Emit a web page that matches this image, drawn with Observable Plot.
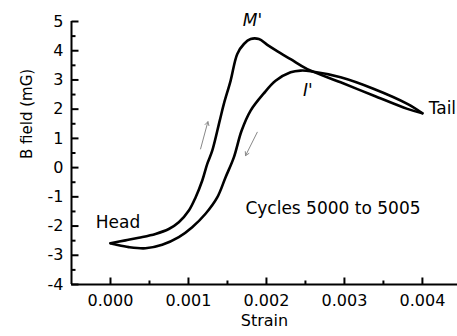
<!DOCTYPE html>
<html>
<head>
<meta charset="utf-8">
<script src="https://cdn.jsdelivr.net/npm/d3@7"></script>
<script src="https://cdn.jsdelivr.net/npm/@observablehq/plot@0.6"></script>
<style>
  html, body { margin: 0; padding: 0; background: #fff; }
</style>
</head>
<body>
<div id="chart"></div>
<script>
// Loading branch: Head -> M' -> Tail
const loadStrain = [0.0000, 0.000192, 0.000363, 0.000577, 0.000748, 0.000876, 0.001005, 0.001091, 0.001177, 0.001241, 0.001305, 0.001401, 0.001454, 0.001540, 0.001626, 0.001711, 0.001797, 0.001903, 0.002011, 0.002117, 0.002310, 0.002524, 0.002951, 0.003379, 0.003807, 0.004000];
const loadB = [-2.59, -2.49, -2.40, -2.27, -2.10, -1.87, -1.47, -1.02, -0.44, 0.13, 0.58, 1.61, 2.18, 2.97, 3.89, 4.23, 4.40, 4.40, 4.20, 4.02, 3.71, 3.37, 2.92, 2.46, 2.01, 1.86];
// Unloading branch: Tail -> I' -> Head
const unloadStrain = [0.004000, 0.003807, 0.003379, 0.002951, 0.002567, 0.002438, 0.002310, 0.002117, 0.001963, 0.001797, 0.001681, 0.001582, 0.001476, 0.001369, 0.001219, 0.001048, 0.000876, 0.000663, 0.000449, 0.000235, 0.000064, 0.000000];
const unloadB = [1.86, 2.18, 2.69, 3.09, 3.30, 3.32, 3.26, 2.97, 2.53, 1.95, 1.26, 0.35, -0.33, -1.02, -1.58, -2.04, -2.38, -2.64, -2.76, -2.72, -2.63, -2.59];

// Axis ticks
const xTicks = [0, 0.001, 0.002, 0.003, 0.004];
const xMinor = [0.0005, 0.0015, 0.0025, 0.0035];
const yTicks = [-4, -3, -2, -1, 0, 1, 2, 3, 4, 5];
const yMinor = [-3.5, -2.5, -1.5, -0.5, 0.5, 1.5, 2.5, 3.5, 4.5];
const xMin = -0.0005, xMax = 0.00445, yMin = -4, yMax = 5;

// Direction arrows (strain, B)
const arrowFromStrain = [0.001155, 0.001882];
const arrowFromB = [0.64, 1.21];
const arrowToStrain = [0.001249, 0.001732];
const arrowToB = [1.57, 0.41];

// Annotations (strain, B)
const plainLabels = ["Head"];
const plainStrain = [0.000096];
const plainB = [-1.88];
const startLabels = ["Tail", "Cycles 5000 to 5005"];
const startStrain = [0.00408, 0.00173];
const startB = [2.02, -1.40];
const italicLabels = ["M'", "I'"];
const italicStrain = [0.00182, 0.00253];
const italicB = [5.02, 2.63];

const loop = [
  ...loadStrain.map((s, i) => ({strain: s, B: loadB[i], branch: "load"})),
  ...unloadStrain.map((s, i) => ({strain: s, B: unloadB[i], branch: "unload"}))
];
const arrows = arrowFromStrain.map((s, i) => ({x1: s, y1: arrowFromB[i], x2: arrowToStrain[i], y2: arrowToB[i]}));
const plain = plainLabels.map((t, i) => ({t, x: plainStrain[i], y: plainB[i]}));
const starts = startLabels.map((t, i) => ({t, x: startStrain[i], y: startB[i]}));
const italics = italicLabels.map((t, i) => ({t, x: italicStrain[i], y: italicB[i]}));

const W = 457, H = 336, ML = 71, MR = 0, MT = 21, MB = 52;
const xPerPx = (xMax - xMin) / (W - ML - MR);
const yPerPx = (yMax - yMin) / (H - MT - MB);

// inward tick segments as records
const majorY = yTicks.map(v => ({x1: xMin, x2: xMin + 7 * xPerPx, y1: v, y2: v}));
const minorY = yMinor.map(v => ({x1: xMin, x2: xMin + 4 * xPerPx, y1: v, y2: v}));
const majorX = xTicks.map(v => ({x1: v, x2: v, y1: yMin, y2: yMin + 7 * yPerPx}));
const minorX = xMinor.map(v => ({x1: v, x2: v, y1: yMin, y2: yMin + 4 * yPerPx}));
const tickSegs = [...majorY, ...minorY, ...majorX, ...minorX];

const chart = Plot.plot({
  width: W,
  height: H,
  marginLeft: ML,
  marginRight: MR,
  marginTop: MT,
  marginBottom: MB,
  style: {fontFamily: "DejaVu Sans", fontSize: "16px", background: "white", color: "black"},
  x: {domain: [xMin, xMax], label: null},
  y: {domain: [yMin, yMax], label: null},
  marks: [
    Plot.axisY({ticks: yTicks, tickSize: 0, tickPadding: 8, tickFormat: d => d, label: null}),
    Plot.axisX({ticks: xTicks, tickSize: 0, tickPadding: 10, tickFormat: d3.format(".3f"), label: null}),
    Plot.ruleX([xMin], {strokeWidth: 2}),
    Plot.ruleY([yMin], {strokeWidth: 2}),
    Plot.link(tickSegs, {x1: "x1", y1: "y1", x2: "x2", y2: "y2", stroke: "black", strokeWidth: 2}),
    Plot.line(loop, {x: "strain", y: "B", z: "branch", stroke: "black", strokeWidth: 2.6, curve: "catmull-rom"}),
    Plot.arrow(arrows, {x1: "x1", y1: "y1", x2: "x2", y2: "y2", stroke: "#888", strokeWidth: 1, headLength: 6}),
    Plot.text(plain, {x: "x", y: "y", text: "t", fontSize: 17, textAnchor: "middle"}),
    Plot.text(starts, {x: "x", y: "y", text: "t", fontSize: 17, textAnchor: "start"}),
    Plot.text(italics, {x: "x", y: "y", text: "t", fontSize: 17, fontStyle: "italic", textAnchor: "middle"}),
    Plot.text(["Strain"], {frameAnchor: "bottom", dy: 41, fontSize: 16}),
    Plot.text(["B field (mG)"], {frameAnchor: "left", dx: -44, dy: 6, rotate: -90, fontSize: 15})
  ]
});
document.getElementById("chart").appendChild(chart);
</script>
</body>
</html>
